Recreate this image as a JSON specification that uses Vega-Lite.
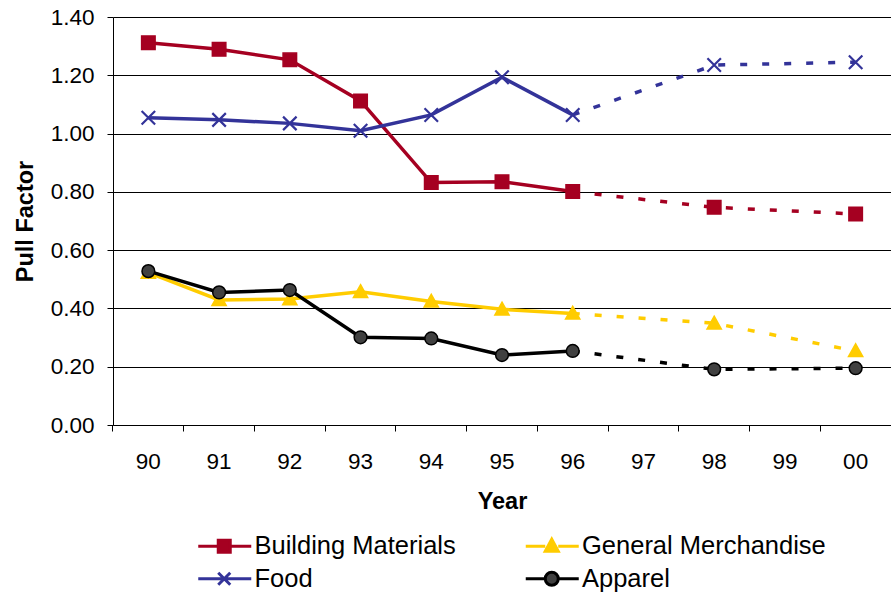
{
  "$schema": "https://vega.github.io/schema/vega-lite/v6.json",
  "width": 778,
  "height": 408,
  "autosize": {"type": "none"},
  "padding": {"left": 113, "top": 17, "right": 0, "bottom": 170},
  "background": "white",
  "config": {
    "view": {"stroke": null},
    "font": "Liberation Sans",
    "axis": {"labelFont": "Liberation Sans", "titleFont": "Liberation Sans", "labelColor": "#000", "titleColor": "#000"},
    "legend": {"labelFont": "Liberation Sans"}
  },
  "data": {
    "values": [
      {"series": "Building Materials", "year": "90", "value": 1.312},
      {"series": "Building Materials", "year": "91", "value": 1.289},
      {"series": "Building Materials", "year": "92", "value": 1.253},
      {"series": "Building Materials", "year": "93", "value": 1.112},
      {"series": "Building Materials", "year": "94", "value": 0.832},
      {"series": "Building Materials", "year": "95", "value": 0.835},
      {"series": "Building Materials", "year": "96", "value": 0.801},
      {"series": "Building Materials", "year": "98", "value": 0.747},
      {"series": "Building Materials", "year": "00", "value": 0.724},
      {"series": "General Merchandise", "year": "90", "value": 0.523},
      {"series": "General Merchandise", "year": "91", "value": 0.429},
      {"series": "General Merchandise", "year": "92", "value": 0.432},
      {"series": "General Merchandise", "year": "93", "value": 0.457},
      {"series": "General Merchandise", "year": "94", "value": 0.424},
      {"series": "General Merchandise", "year": "95", "value": 0.397},
      {"series": "General Merchandise", "year": "96", "value": 0.383},
      {"series": "General Merchandise", "year": "98", "value": 0.349},
      {"series": "General Merchandise", "year": "00", "value": 0.254},
      {"series": "Food", "year": "90", "value": 1.054},
      {"series": "Food", "year": "91", "value": 1.047},
      {"series": "Food", "year": "92", "value": 1.035},
      {"series": "Food", "year": "93", "value": 1.010},
      {"series": "Food", "year": "94", "value": 1.064},
      {"series": "Food", "year": "95", "value": 1.193},
      {"series": "Food", "year": "96", "value": 1.064},
      {"series": "Food", "year": "98", "value": 1.235},
      {"series": "Food", "year": "00", "value": 1.245},
      {"series": "Apparel", "year": "90", "value": 0.528},
      {"series": "Apparel", "year": "91", "value": 0.455},
      {"series": "Apparel", "year": "92", "value": 0.463},
      {"series": "Apparel", "year": "93", "value": 0.301},
      {"series": "Apparel", "year": "94", "value": 0.297},
      {"series": "Apparel", "year": "95", "value": 0.240},
      {"series": "Apparel", "year": "96", "value": 0.254},
      {"series": "Apparel", "year": "98", "value": 0.191},
      {"series": "Apparel", "year": "00", "value": 0.195}
    ]
  },
  "encoding": {
    "x": {
      "field": "year",
      "type": "ordinal",
      "scale": {"type": "band", "domain": ["90", "91", "92", "93", "94", "95", "96", "97", "98", "99", "00"], "paddingInner": 0, "paddingOuter": 0},
      "axis": {
        "bandPosition": 0,
        "labelAngle": 0,
        "labelFontSize": 22.5,
        "labelPadding": 19,
        "tickSize": 6,
        "tickColor": "#000",
        "domainColor": "#000",
        "grid": false,
        "title": "Year",
        "titleFontSize": 23.5,
        "titleFontWeight": "bold",
        "titleBaseline": "alphabetic",
        "titleX": 389,
        "titleY": 83
      }
    },
    "y": {
      "field": "value",
      "type": "quantitative",
      "scale": {"domain": [0, 1.4], "nice": false},
      "axis": {
        "values": [0, 0.2, 0.4, 0.6, 0.8, 1.0, 1.2, 1.4],
        "format": ".2f",
        "labelFontSize": 22.5,
        "labelPadding": 13,
        "tickSize": 6,
        "tickColor": "#000",
        "domainColor": "#000",
        "grid": true,
        "gridColor": "#000",
        "gridWidth": 1,
        "title": "Pull Factor",
        "titleFontSize": 23.5,
        "titleFontWeight": "bold",
        "titleAngle": 270,
        "titleBaseline": "alphabetic",
        "titleX": -81,
        "titleY": 204
      }
    }
  },
  "layer": [
    {
      "transform": [{"filter": {"field": "year", "oneOf": ["90", "91", "92", "93", "94", "95", "96"]}}],
      "mark": {"type": "line", "strokeWidth": 3.5},
      "encoding": {
        "color": {
          "field": "series",
          "type": "nominal",
          "scale": {"domain": ["Building Materials", "Food", "General Merchandise", "Apparel"], "range": ["#A50021", "#333399", "#FFCC00", "#000000"]},
          "legend": {
            "orient": "none",
            "legendX": 82.5,
            "legendY": 516,
            "columns": 2,
            "title": null,
            "padding": 0,
            "symbolSize": 400,
            "symbolStrokeWidth": 3,
            "labelFontSize": 25.5,
            "labelColor": "#000",
            "labelOffset": 33.5,
            "columnPadding": 62.5,
            "rowPadding": 6,
            "labelLimit": 400,
            "encode": {
              "symbols": {
                "update": {
                  "shape": {"signal": "datum.value === 'Building Materials' ? 'M-1,0H1.0M2.2,0H4.3M1.0,-0.6H2.2V0.6H1.0Z' : datum.value === 'General Merchandise' ? 'M-1,0H0.95M2.25,0H4.3M1.6,-0.7L2.25,0.5H0.95Z' : datum.value === 'Food' ? 'M-1,0H4.3M1.0,-0.6L2.2,0.6M1.0,0.6L2.2,-0.6' : 'M-1,0H0.95M2.25,0H4.3M0.95,0A0.65,0.65 0 1,0 2.25,0A0.65,0.65 0 1,0 0.95,0Z'"},
                  "fill": {"signal": "datum.value === 'Apparel' ? '#404040' : datum.value === 'Building Materials' ? '#A50021' : datum.value === 'General Merchandise' ? '#FFCC00' : 'transparent'"},
                  "strokeDash": {"value": []},
                  "opacity": {"value": 1}
                }
              }
            }
          }
        }
      }
    },
    {
      "transform": [{"filter": {"field": "year", "oneOf": ["96", "98", "00"]}}],
      "mark": {"type": "line", "strokeWidth": 3.5, "strokeDash": [7, 15]},
      "encoding": {
        "color": {"field": "series", "type": "nominal"}
      }
    },
    {
      "transform": [{"filter": {"field": "series", "oneOf": ["Building Materials", "General Merchandise", "Apparel"]}}],
      "mark": {"type": "point", "filled": true, "size": 225, "strokeWidth": 1.5, "opacity": 1},
      "encoding": {
        "shape": {
          "field": "series",
          "type": "nominal",
          "scale": {"domain": ["Building Materials", "General Merchandise", "Apparel"], "range": ["M-0.9,-0.9H0.9V0.9H-0.9Z", "M0,-0.95L0.95,0.75H-0.95Z", "M-0.85,0A0.85,0.85 0 1,0 0.85,0A0.85,0.85 0 1,0 -0.85,0Z"]},
          "legend": null
        },
        "fill": {
          "field": "series",
          "type": "nominal",
          "scale": {"domain": ["Building Materials", "General Merchandise", "Apparel"], "range": ["#A50021", "#FFCC00", "#404040"]},
          "legend": null
        },
        "stroke": {
          "field": "series",
          "type": "nominal",
          "scale": {"domain": ["Building Materials", "General Merchandise", "Apparel"], "range": ["#A50021", "#FFCC00", "#000000"]},
          "legend": null
        }
      }
    },
    {
      "transform": [{"filter": {"field": "series", "equal": "Food"}}],
      "mark": {"type": "point", "filled": false, "size": 225, "strokeWidth": 2.2, "opacity": 1, "color": "#333399", "shape": "M-0.9,-0.9L0.9,0.9M-0.9,0.9L0.9,-0.9"}
    }
  ]
}
